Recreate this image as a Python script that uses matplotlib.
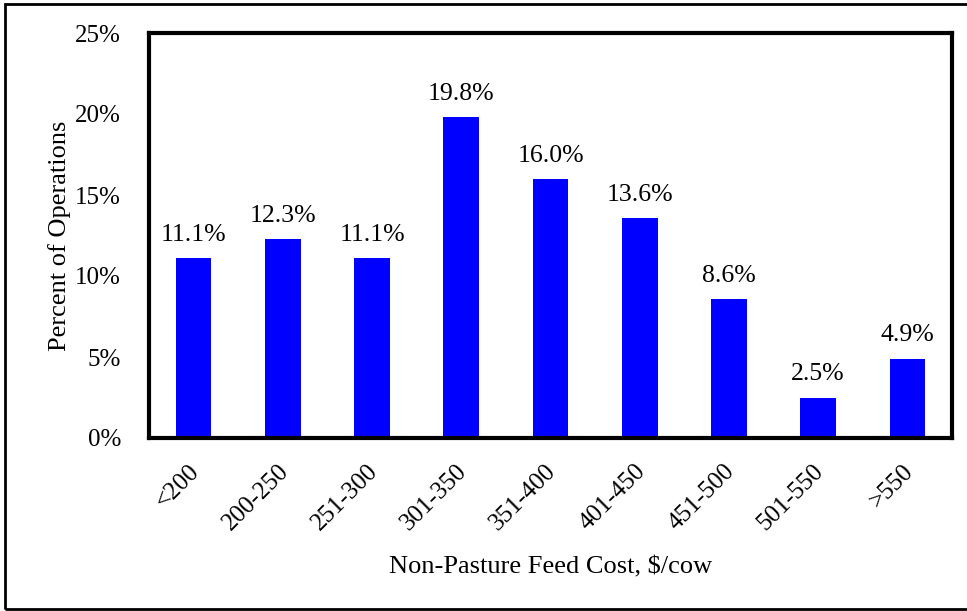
import matplotlib
matplotlib.use("Agg")
import matplotlib.pyplot as plt
import matplotlib.transforms as mtransforms
from matplotlib.patches import Rectangle

categories = ["<200", "200-250", "251-300", "301-350", "351-400", "401-450", "451-500", "501-550", ">550"]
values = [11.1, 12.3, 11.1, 19.8, 16.0, 13.6, 8.6, 2.5, 4.9]
yticks = [0, 5, 10, 15, 20, 25]

plt.rcParams['font.family'] = ['Liberation Serif', 'DejaVu Serif']

W, H = 967, 611
fig = plt.figure(figsize=(W/100, H/100), dpi=100)
ax = fig.add_axes([149/W, 1-438/H, (952-149)/W, (438-33)/H])

x = range(len(categories))
ax.bar(x, values, width=0.4, color="#0000FF")
for i, v in enumerate(values):
    ax.text(i, v + 0.75, f"{v:.1f}%", ha="center", va="bottom", fontsize=18.5)

ax.set_xlim(-0.5, len(categories) - 0.5)
ax.set_ylim(0, 25)
ax.set_yticks(yticks)
ax.set_yticklabels([f"{t}%" for t in yticks], fontsize=18)
ax.set_xticks(list(x))
ax.tick_params(axis="both", length=0)
ax.tick_params(axis="x", pad=16)
ax.tick_params(axis="y", pad=20)
ax.set_xticklabels(categories, rotation=45, ha="right", va="top", fontsize=18,
                   rotation_mode="default")
offset = mtransforms.ScaledTranslation(10/100, 0, fig.dpi_scale_trans)
for lab in ax.get_xticklabels():
    lab.set_transform(lab.get_transform() + offset)
for s in ax.spines.values():
    s.set_linewidth(3)
ax.set_xlabel("Non-Pasture Feed Cost, $/cow", fontsize=19, labelpad=16)
ax.set_ylabel("Percent of Operations", fontsize=19, labelpad=3)

# outer figure frame (right edge cut off)
fig.patches.append(Rectangle((5/W, 1-609/H), 1.0, (609-4)/H, transform=fig.transFigure,
                             fill=False, edgecolor="black", linewidth=2))

fig.savefig("out.png", dpi=100)
